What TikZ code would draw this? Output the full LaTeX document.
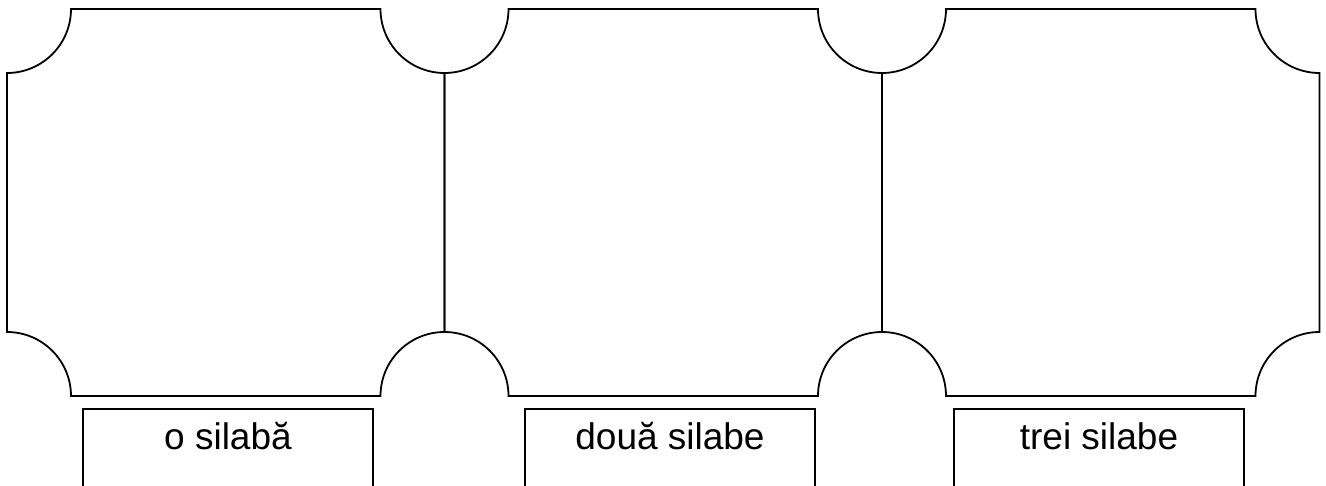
\documentclass[tikz,border=0pt]{standalone}
\usepackage{fontspec}
\setmainfont{Liberation Sans}

\begin{document}
\begin{tikzpicture}[x=1pt, y=1pt,
        cardline/.style={draw=black, line width=1.8pt, line join=miter},
        tag/.style={rectangle, draw=black, line width=1.8pt, minimum width=290pt,
                    inner sep=0pt, text height=41pt, text depth=40pt, anchor=base,
                    font=\fontsize{37}{44}\selectfont},
        card/.pic={
            \draw[cardline] (0,64) -- (0,323) arc[start angle=-90, end angle=0, radius=64]
                -- (373.5,387) arc[start angle=180, end angle=270, radius=64]
                -- (437.5,64) arc[start angle=90, end angle=180, radius=64]
                -- (64,0) arc[start angle=0, end angle=90, radius=64] -- cycle;
        }]

        \useasboundingbox (0,0) rectangle (1326,485);
        \clip (0,0) rectangle (1326,485);

        % the three cards
        \pic (one)   at (7,89)   {card};
        \pic (two)   at (444.5,89) {card};
        \pic (three) at (882,89) {card};

        % labels under the cards
        \node[tag] (tagone)   at (228,35)  {o silabă};
        \node[tag] (tagtwo)   at (670,35)  {două silabe};
        \node[tag] (tagthree) at (1099,35) {trei silabe};
    \end{tikzpicture}
\end{document}
